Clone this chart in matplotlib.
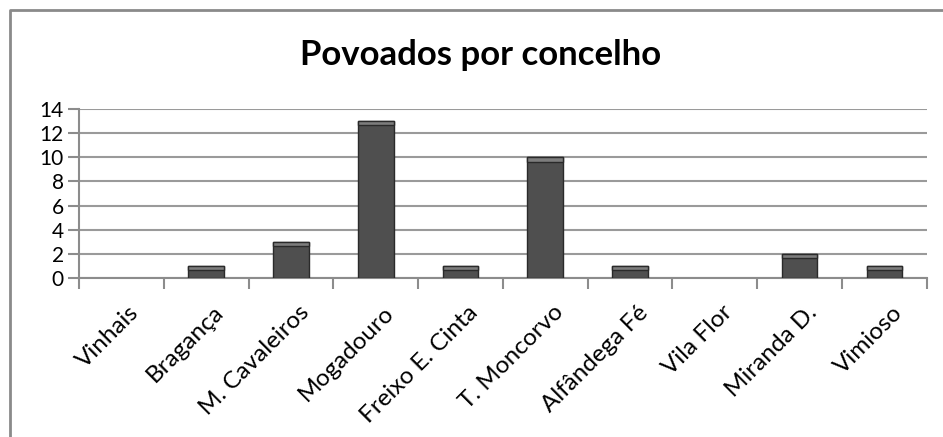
import matplotlib
matplotlib.use("Agg")
import matplotlib.pyplot as plt
from matplotlib.lines import Line2D
from matplotlib.transforms import ScaledTranslation

# dados
concelhos = ["Vinhais", "Bragança", "M. Cavaleiros", "Mogadouro", "Freixo E. Cinta",
             "T. Moncorvo", "Alfândega Fé", "Vila Flor", "Miranda D.", "Vimioso"]
povoados = [0, 1, 3, 13, 1, 10, 1, 0, 2, 1]
yticks = [0, 2, 4, 6, 8, 10, 12, 14]

plt.rcParams['font.family'] = ['Lato', 'DejaVu Sans']

fig = plt.figure(figsize=(9.43, 4.37), dpi=100)
ax = fig.add_axes([0.0838, 0.3638, 0.899, 0.3868])

# borda do gráfico (só topo e esquerda ficam visíveis no recorte)
fig.lines.append(Line2D([0.0101, 0.0101, 1.0], [0.0, 0.977, 0.977], transform=fig.transFigure,
                        color='#8a8a8a', linewidth=2.0))

x = list(range(len(concelhos)))
# só as barras com valor (as de valor zero não aparecem)
xs = [i for i, v in zip(x, povoados) if v > 0]
vs = [v for v in povoados if v > 0]
ax.bar(xs, vs, width=0.42, color='#4f4f4f', edgecolor='#2a2a2a', linewidth=1.0, zorder=3)
# realce superior (efeito bisel)
cap = [min(v, 0.35) for v in vs]
ax.bar(xs, cap, width=0.42, bottom=[v - c for v, c in zip(vs, cap)],
       color='#7d7d7d', edgecolor='#2a2a2a', linewidth=1.0, zorder=4)

ax.set_xlim(-0.5, len(concelhos) - 0.5)
ax.set_ylim(0, 14)
ax.set_yticks(yticks)
ax.set_yticklabels([str(t) for t in yticks], fontsize=15)
ax.yaxis.grid(True, color='#9a9a9a', linewidth=1.5, zorder=0)
ax.set_axisbelow(True)

# marcas do eixo x nos limites das categorias
ax.set_xticks([i - 0.5 for i in range(len(concelhos) + 1)])
ax.set_xticklabels([])
ax.set_xticks(x, minor=True)
ax.set_xticklabels(concelhos, minor=True, rotation=45, ha='right', va='top',
                   rotation_mode='anchor', fontsize=17.5)
ax.tick_params(axis='x', which='minor', length=0, pad=17)
ax.tick_params(axis='x', which='major', length=8, width=1.5, color='#8c8c8c')
ax.tick_params(axis='y', length=8, width=1.5, color='#8c8c8c', pad=3)
for lbl in ax.get_xticklabels(minor=True):
    lbl.set_transform(lbl.get_transform() + ScaledTranslation(0.07, 0, fig.dpi_scale_trans))

for s in ['top', 'right']:
    ax.spines[s].set_visible(False)
for s in ['left', 'bottom']:
    ax.spines[s].set_color('#8c8c8c')
    ax.spines[s].set_linewidth(1.5)

fig.text(0.51, 0.874, "Povoados por concelho", ha='center', va='center',
         fontsize=25, fontweight='bold')

fig.savefig("out.png", dpi=100)
